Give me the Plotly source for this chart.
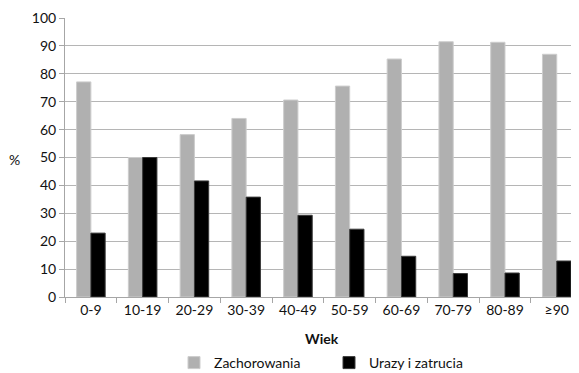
import plotly.graph_objects as go

categories = ["0-9", "10-19", "20-29", "30-39", "40-49", "50-59", "60-69", "70-79", "80-89", "≥90"]
zachorowania = [77.1, 50.0, 58.2, 64.0, 70.6, 75.6, 85.3, 91.5, 91.3, 87.0]
urazy = [22.9, 50.0, 41.6, 35.8, 29.3, 24.3, 14.6, 8.4, 8.6, 12.9]
y_ticks = [0, 10, 20, 30, 40, 50, 60, 70, 80, 90, 100]

FONT = "Lato, 'Open Sans', sans-serif"
TXT = "#111111"

fig = go.Figure()
fig.add_trace(go.Bar(x=categories, y=zachorowania, name="Zachorowania",
                     marker=dict(color="#b0b0b0", line=dict(color="#cdcdcd", width=1))))
fig.add_trace(go.Bar(x=categories, y=urazy, name="Urazy i zatrucia",
                     marker=dict(color="#000000", line=dict(color="#3a3a3a", width=1))))

# page has an 8px body margin, so the figure is 8px smaller and margins are reduced by 8
W, H = 571, 365
L, R, T, B = 57, 0, 10, 76
plot_w = W - L - R
plot_h = H - T - B

fig.update_layout(
    width=W, height=H,
    margin=dict(l=L, r=R, t=T, b=B, autoexpand=False),
    paper_bgcolor="white", plot_bgcolor="white",
    barmode="group", bargap=0.448, bargroupgap=0,
    font=dict(family=FONT, size=14, color=TXT),
    showlegend=True,
    legend=dict(orientation="h", x=0.5 + 7 / plot_w, xanchor="center",
                yref="container", y=(H - 355) / H, yanchor="middle",
                font=dict(size=14, family=FONT, color=TXT), entrywidth=110, itemclick=False),
    xaxis=dict(type="category", range=[-0.5, 9.43], tickson="boundaries",
               ticks="outside", ticklen=5, tickcolor="#a6a6a6",
               showline=True, linecolor="#a6a6a6", linewidth=1,
               showgrid=False, tickfont=dict(size=14)),
    yaxis=dict(range=[0, 100], tickvals=y_ticks, ticks="outside", ticklen=5,
               tickcolor="#a6a6a6", showline=True, linecolor="#a6a6a6", linewidth=1,
               showgrid=True, gridcolor="#b5b5b5", gridwidth=1, zeroline=False,
               tickfont=dict(size=14)),
    annotations=[
        dict(text="%", x=(6 - L) / plot_w, xref="paper", y=(plot_h + T - 152) / plot_h,
             yref="paper", showarrow=False, font=dict(size=14, family=FONT, color=TXT),
             xanchor="center", yanchor="middle"),
        dict(text="<b>Wiek</b>", x=0.5, xref="paper", y=-41 / plot_h, yref="paper",
             showarrow=False, font=dict(size=14, family=FONT, color=TXT),
             xanchor="center", yanchor="middle"),
    ],
)

fig.write_html("out.html")
